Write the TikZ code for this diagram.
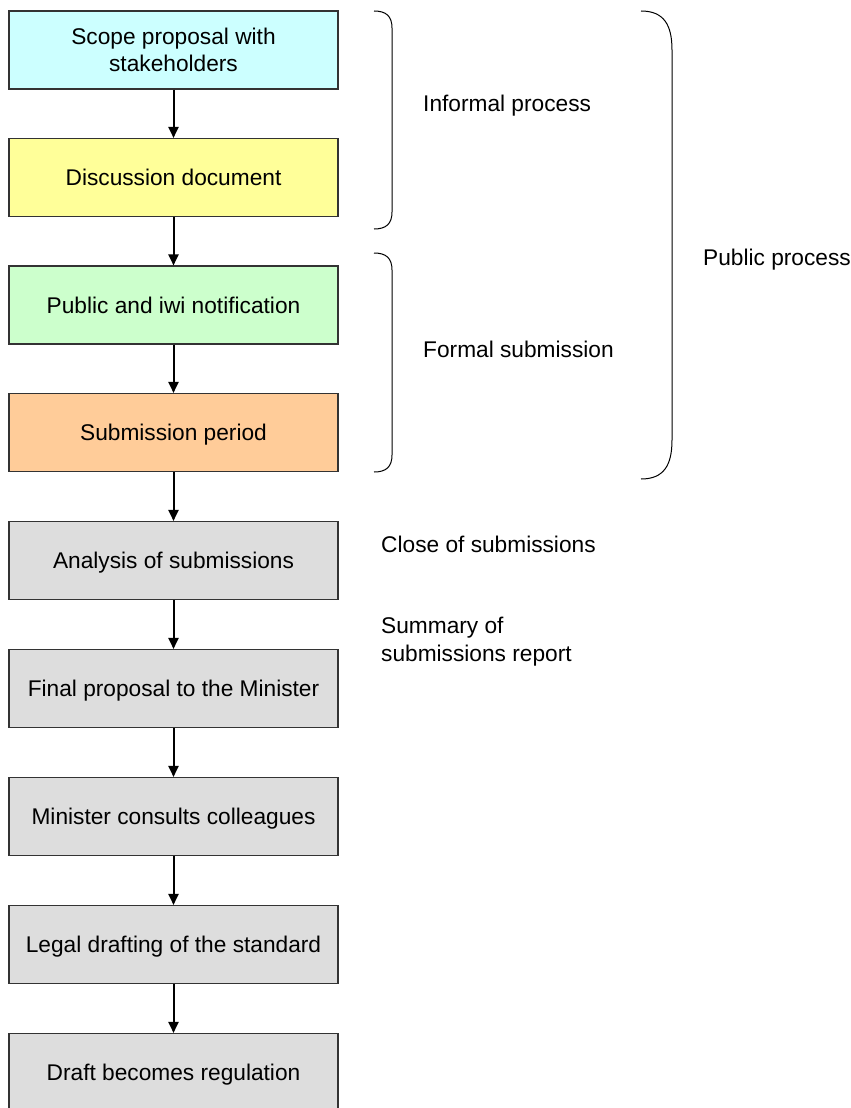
\documentclass[tikz,border=0pt]{standalone}
\usepackage{fontspec}
\setmainfont{Liberation Sans}
\usetikzlibrary{arrows.meta}
\definecolor{cScope}{HTML}{CCFFFF}
\definecolor{cDisc}{HTML}{FFFF99}
\definecolor{cPub}{HTML}{CCFFCC}
\definecolor{cSub}{HTML}{FFCC99}
\definecolor{cGray}{HTML}{DDDDDD}
\definecolor{cBorder}{HTML}{333333}
\tikzset{
  stepbox/.style={draw=cBorder, line width=1.1pt, minimum width=329pt, minimum height=78pt,
    inner sep=0pt, align=center, font=\fontsize{22.7}{26.5}\selectfont},
  onebox/.style={stepbox, text depth=0pt},
  flow/.style={line width=2pt, -{Triangle[length=11pt,width=10pt]}},
  note/.style={anchor=west, inner sep=0pt, align=left, font=\fontsize{22.7}{27.5}\selectfont},
  bracket/.style={line width=1pt, black}
}
\begin{document}
\begin{tikzpicture}[x=1pt,y=-1pt]
\useasboundingbox (0,0) rectangle (851,1108);
\fill[white] (0,0) rectangle (851,1108);
\node[stepbox, fill=cScope] (b1) at (173.5,50) {Scope proposal with\\stakeholders};
\node[onebox, fill=cDisc] (b2) at (173.5,177.5) {Discussion document};
\node[onebox, fill=cPub] (b3) at (173.5,305) {Public and iwi notification};
\node[onebox, fill=cSub] (b4) at (173.5,432.5) {Submission period};
\node[onebox, fill=cGray] (b5) at (173.5,560.5) {Analysis of submissions};
\node[onebox, fill=cGray] (b6) at (173.5,688.5) {Final proposal to the Minister};
\node[onebox, fill=cGray] (b7) at (173.5,816.5) {Minister consults colleagues};
\node[onebox, fill=cGray] (b8) at (173.5,944.5) {Legal drafting of the standard};
\node[onebox, fill=cGray] (b9) at (173.5,1072.5) {Draft becomes regulation};
\foreach \a/\b in {b1/b2,b2/b3,b3/b4,b4/b5,b5/b6,b6/b7,b7/b8,b8/b9}
  \draw[flow] (\a.south) -- (\b.north);
% brackets
\draw[bracket] (374,11) .. controls (386,11) and (392,16) .. (392,28) -- (392,212) .. controls (392,224) and (386,229) .. (374,229);
\draw[bracket] (374,253) .. controls (386,253) and (392,258) .. (392,270) -- (392,455) .. controls (392,467) and (386,472) .. (374,472);
\draw[bracket] (641,11) .. controls (664,11) and (672,25) .. (672,50) -- (672,440) .. controls (672,465) and (664,479) .. (641,479);
\node[note] (informal) at (423,105.5) {Informal process};
\node[note] (formal) at (423,349.5) {Formal submission};
\node[note] (public) at (703,259.5) {Public process};
\node[note] (close) at (381,544.5) {Close of submissions};
\node[note] (summary) at (381,641.5) {Summary of\\submissions report};
\end{tikzpicture}
\end{document}
